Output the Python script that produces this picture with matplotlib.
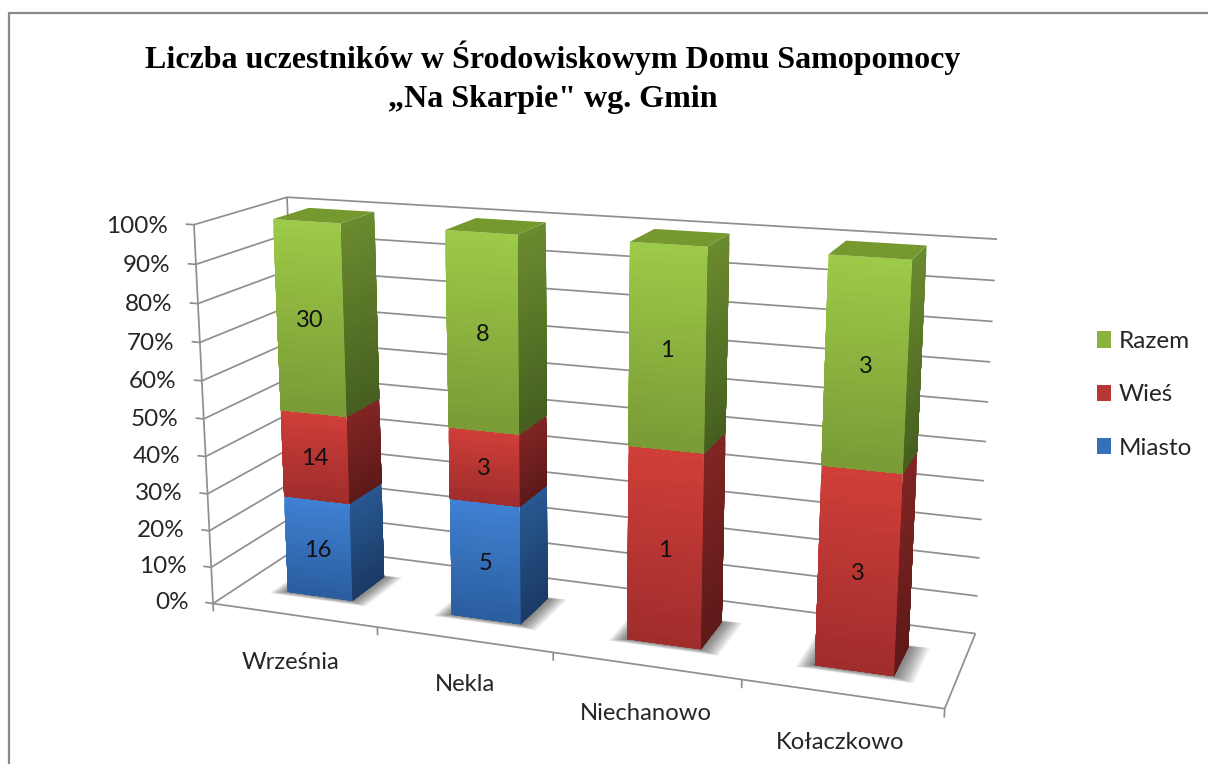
import numpy as np
import matplotlib
matplotlib.use("Agg")
import matplotlib.pyplot as plt
from matplotlib.lines import Line2D
from matplotlib.patches import Patch
from mpl_toolkits.mplot3d.art3d import Poly3DCollection, Line3DCollection

W, H = 1208, 764

categories = ["Września", "Nekla", "Niechanowo", "Kołaczkowo"]
miasto = [16, 5, 0, 0]
wies = [14, 3, 1, 3]
razem = [30, 8, 1, 3]
series_names = ["Miasto", "Wieś", "Razem"]
pct_ticks = [0, 10, 20, 30, 40, 50, 60, 70, 80, 90, 100]

# front top, front bottom, side top, side bottom, roof
styles = {
    "Miasto": ("#3f80d2", "#2b5e9f", "#28588f", "#1b3a66", "#3f80d2"),
    "Wieś": ("#cf3e39", "#a02d2c", "#802523", "#5e1a19", "#b03330"),
    "Razem": ("#9cc947", "#7a9b36", "#6a8a2f", "#465f20", "#75992f"),
}
GRID = "#8f8f8f"
TEXT = "#262626"

# where the chart box corners land in the picture (x, depth, pct, px, py)
calib = [
    (0, 0, 0, 214, 603), (0, 0, 100, 193, 224), (0, 1, 100, 288, 198),
    (0, 1, 0, 299, 546), (4, 1, 100, 997, 239), (4, 1, 0, 976, 633),
    (4, 0, 0, 944, 708), (1, 0, 0, 378, 627), (2, 0, 0, 553, 653),
    (3, 0, 0, 742, 681),
]


def camera_matrix():
    rows = []
    for x, y, z, px, py in calib:
        z = z / 100
        u = px / 1000
        v = (H - py) / 1000
        rows.append([x, y, z, 1, 0, 0, 0, 0, -u * x, -u * y, -u * z, -u])
        rows.append([0, 0, 0, 0, x, y, z, 1, -v * x, -v * y, -v * z, -v])
    p = np.linalg.svd(np.array(rows, dtype=float))[2][-1].reshape(3, 4)
    p[:, 2] /= 100
    p[:2] *= 1000
    if p[2, 3] < 0:
        p = -p
    return p / p[2, 3]


def mix(c1, c2, n):
    a = np.array(matplotlib.colors.to_rgb(c1))
    b = np.array(matplotlib.colors.to_rgb(c2))
    return [tuple(a + (b - a) * t) for t in np.linspace(0, 1, n)]


def add_poly(verts, color, zorder):
    poly = Poly3DCollection([verts], facecolors=[color], edgecolors="none", linewidths=0)
    poly.set_zorder(zorder)
    ax.add_collection3d(poly, autolim=False)
    poly.set_clip_on(False)


def label3(x, y, z, s, dx=0, dy=0, **kw):
    # text placed at the projected point of the chart box
    q = pix @ np.array([x, y, z, 1.0])
    fig.text((q[0] / q[2] + dx) / W, (q[1] / q[2] - dy) / H, s, va="center", **kw)


fig = plt.figure(figsize=(W / 100, H / 100), dpi=100)
ax = fig.add_axes([0, 0, 1, 1], projection="3d")
ax.set_axis_off()
ax.computed_zorder = False
ax.apply_aspect()

# replace the orbit camera by the one fitted to the chart box
pix = camera_matrix()
p = np.linalg.inv(ax.transData.get_matrix()) @ pix
cam = np.array([p[0], p[1], [0, 0, 0, 1], p[2]])
ax.get_proj = lambda: cam

# walls and floor
segs = []
for v in pct_ticks:
    segs.append([(0, 0, v), (0, 1, v)])
    segs.append([(0, 1, v), (4, 1, v)])
    segs.append([(-0.05, 0, v), (0, 0, v)])
    label3(-0.155, 0, v, f"{v}%", dy=3, ha="right", family="Lato", fontsize=17.5, color=TEXT)
segs.append([(0, 0, 0), (0, 0, 100)])
segs.append([(0, 1, 0), (0, 1, 100)])
segs.append([(0, 0, 0), (4, 0, 0)])
segs.append([(4, 0, 0), (4, 1, 0)])
for i in range(5):
    segs.append([(i, 0, 0), (i, 0, -2.2)])
grid = Line3DCollection(segs, colors=GRID, linewidths=1.25)
grid.set_zorder(1)
ax.add_collection3d(grid, autolim=False)
grid.set_clip_on(False)

cat_nudge = [(-5, 4), (1, 0), (0, 1), (0, 1)]
for i, name in enumerate(categories):
    label3(i + 0.5, 0, -12, name, dx=cat_nudge[i][0], dy=cat_nudge[i][1], ha="center",
           family="Lato", fontsize=17.2, color=TEXT)

# bars
y0, y1 = 0.3, 0.7
width = 0.4
strips = 24
for i in range(len(categories)):
    x0 = i + 0.5 - width / 2
    x1 = x0 + width
    # soft shadow on the floor
    for k in range(12):
        grow = 0.009 * (12 - k)
        sx0, sx1 = x0 - grow * 0.8, x1 + grow * 1.0
        sy0, sy1 = y0 - grow * 0.5, y1 + grow * 0.2
        add_poly([(sx0, sy0, 0), (sx1, sy0, 0), (sx1, sy1, 0), (sx0, sy1, 0)], (0, 0, 0, 0.05), 2)

    counts = [miasto[i], wies[i], razem[i]]
    total = sum(counts)
    bottom = 0
    for j, name in enumerate(series_names):
        if counts[j] == 0:
            continue
        top = bottom + counts[j] / total * 100
        ft, fb, st, sb, roof = styles[name]
        zs = np.linspace(top, bottom, strips + 1)
        front_cols = mix(ft, fb, strips)
        side_cols = mix(st, sb, strips)
        # each strip reaches the segment bottom, the next one paints over it
        for k in range(strips):
            a = zs[k]
            order = 3 + j + k / 100
            add_poly([(x1, y0, a), (x1, y1, a), (x1, y1, bottom), (x1, y0, bottom)], side_cols[k], order)
            add_poly([(x0, y0, a), (x1, y0, a), (x1, y0, bottom), (x0, y0, bottom)], front_cols[k], order)
        if top > 99.9:
            add_poly([(x0, y0, top), (x1, y0, top), (x1, y1, top), (x0, y1, top)], roof, 3 + j)
        label3((x0 + x1) / 2, y0, (top + bottom) / 2, str(counts[j]), dy=2, ha="center",
               family="Lato", fontsize=17, color="#111111")
        bottom = top

# legend
handles = [Patch(facecolor=mix(styles[n][0], styles[n][1], 3)[1], edgecolor="none") for n in series_names[::-1]]
fig.legend(handles, series_names[::-1], loc="upper left",
           bbox_to_anchor=(1097 / W, 1 - 331 / H), frameon=False,
           prop={"family": "Lato", "size": 17.5}, labelcolor=TEXT,
           handlelength=0.58, handleheight=0.66, handletextpad=0.3,
           labelspacing=1.33, borderpad=0, borderaxespad=0)

# title
fig.text(553 / W, 1 - 58 / H, "Liczba uczestników w Środowiskowym Domu Samopomocy",
         ha="center", va="center", family="Liberation Serif", weight="bold", fontsize=23, color="black")
fig.text(553 / W, 1 - 100 / H, "„Na Skarpie\" wg. Gmin",
         ha="center", va="center", family="Liberation Serif", weight="bold", fontsize=23, color="black")

# outer frame, cut off on the right and at the bottom
fig.add_artist(Line2D([9 / W, 9 / W, 1], [0, 1 - 13 / H, 1 - 13 / H], color="#8a8a8a", lw=1.6))

fig.savefig("out.png", dpi=100)
